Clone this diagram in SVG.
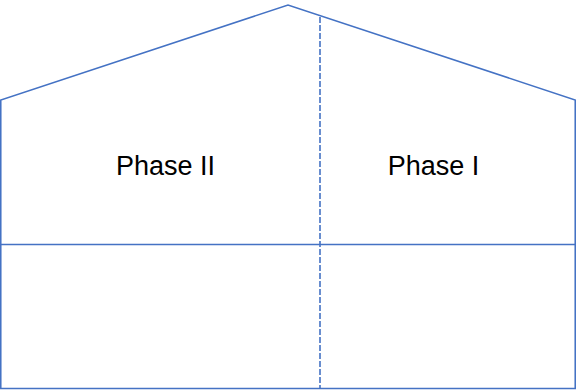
<svg xmlns="http://www.w3.org/2000/svg" width="576" height="390" viewBox="0 0 576 390">
  <style>
    .edge { fill: none; stroke: #4472C4; stroke-width: 1.6; }
    .dash { stroke-dasharray: 6 2; }
    .label { font-family: "Liberation Sans", Arial, sans-serif; font-size: 27px; fill: #000; text-anchor: middle; }
  </style>
  <rect width="576" height="390" fill="#fff"/>
  <g id="house-outline">
    <path class="edge" d="M0.75 388.5 V100 L288 5 L575.25 100 V388.5 Z"/>
  </g>
  <g id="connectors">
    <line class="edge" x1="0.75" y1="244.5" x2="575.25" y2="244.5"/>
    <line class="edge dash" x1="320" y1="17" x2="320" y2="388.5"/>
  </g>
  <g id="phase-2">
    <text class="label" x="165.5" y="174.5">Phase II</text>
  </g>
  <g id="phase-1">
    <text class="label" x="433.5" y="174.5">Phase I</text>
  </g>
</svg>
